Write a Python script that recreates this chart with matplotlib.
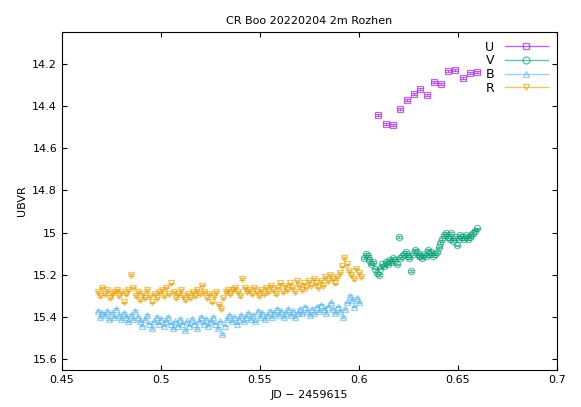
import numpy as np
import matplotlib
matplotlib.use("Agg")
import matplotlib.pyplot as plt
from matplotlib.lines import Line2D

u_x = [0.6096,0.6136,0.6172,0.6207,0.6242,0.6278,0.6308,0.6343,0.6379,0.6414,0.6449,0.6485,0.6525,0.6560,0.6596]
u_y = [14.443,14.486,14.490,14.414,14.371,14.343,14.319,14.348,14.286,14.295,14.233,14.229,14.267,14.243,14.238]

v_y = [15.12,15.10,15.11,15.13,15.15,15.14,15.17,15.19,15.20,15.17,15.15,15.16,15.14,15.15,15.13,15.14,
       15.12,15.13,15.15,15.02,15.12,15.11,15.10,15.09,15.11,15.12,15.18,15.10,15.08,15.09,15.11,15.11,
       15.12,15.10,15.11,15.08,15.10,15.09,15.11,15.10,15.09,15.07,15.05,15.03,15.01,15.00,15.02,15.03,
       15.00,15.04,15.02,15.06,15.03,15.01,15.02,15.03,15.01,15.03,15.02,15.01,15.00,14.99,14.98]
v_x = np.linspace(0.6025, 0.6595, len(v_y))

r_y = [15.28,15.30,15.26,15.29,15.27,15.31,15.29,15.28,15.27,15.30,15.28,15.33,15.29,15.27,15.20,15.26,
       15.30,15.28,15.32,15.29,15.31,15.27,15.30,15.33,15.29,15.31,15.28,15.27,15.30,15.26,15.29,15.24,
       15.28,15.31,15.29,15.27,15.30,15.32,15.29,15.31,15.28,15.30,15.27,15.29,15.25,15.28,15.31,15.29,
       15.33,15.30,15.28,15.34,15.36,15.31,15.28,15.27,15.29,15.27,15.26,15.28,15.30,15.22,15.26,15.28,
       15.27,15.29,15.26,15.28,15.30,15.27,15.29,15.26,15.28,15.25,15.27,15.29,15.26,15.24,15.28,15.25,
       15.27,15.24,15.26,15.28,15.23,15.25,15.27,15.24,15.26,15.23,15.25,15.22,15.24,15.26,15.23,15.25,
       15.21,15.23,15.20,15.22,15.24,15.21,15.19,15.16,15.12,15.15,15.18,15.20,15.22,15.17,15.19,15.21]
r_x = np.linspace(0.468, 0.601, len(r_y))

b_y = [15.37,15.40,15.38,15.39,15.37,15.41,15.38,15.40,15.36,15.39,15.41,15.38,15.40,15.42,15.39,15.41,
       15.37,15.40,15.42,15.44,15.41,15.39,15.43,15.45,15.42,15.40,15.43,15.41,15.44,15.42,15.40,15.43,
       15.45,15.42,15.44,15.41,15.43,15.46,15.42,15.44,15.41,15.43,15.45,15.42,15.40,15.43,15.41,15.44,
       15.42,15.40,15.43,15.45,15.42,15.48,15.44,15.41,15.39,15.42,15.40,15.43,15.41,15.39,15.42,15.40,
       15.38,15.41,15.39,15.42,15.37,15.40,15.38,15.41,15.39,15.37,15.40,15.38,15.36,15.39,15.37,15.40,
       15.38,15.36,15.39,15.37,15.40,15.38,15.36,15.38,15.35,15.37,15.39,15.36,15.38,15.35,15.37,15.34,
       15.36,15.38,15.35,15.33,15.36,15.38,15.35,15.37,15.40,15.36,15.33,15.30,15.32,15.35,15.31,15.33]
b_x = np.linspace(0.468, 0.600, len(b_y))

series = [("U", u_x, u_y, "#9400d3", "s"),
          ("V", v_x, v_y, "#009e73", "o"),
          ("B", b_x, b_y, "#56b4e9", "^"),
          ("R", r_x, r_y, "#e69f00", "v")]

fig = plt.figure(figsize=(5.81, 4.07), dpi=100)
ax = fig.add_axes([62/581, 1-370/407, 495/581, 338/407])
handles = []
for name, x, y, c, m in series:
    ax.errorbar(x, y, yerr=0.004, fmt=m, mfc="none", mec=c, ecolor=c, color=c,
                ms=4.5, mew=0.9, elinewidth=0.8, capsize=2, alpha=0.6)
    handles.append(Line2D([], [], color=c, marker=m, mfc="none", mec=c, ms=5,
                          lw=1, alpha=0.6, label=name))
ax.set_xlim(0.45, 0.7)
ax.set_ylim(15.65, 14.05)
ax.set_xticks([0.45,0.5,0.55,0.6,0.65,0.7])
ax.set_xticklabels(["0.45","0.5","0.55","0.6","0.65","0.7"])
ax.set_yticks([14.2,14.4,14.6,14.8,15,15.2,15.4,15.6])
ax.set_yticklabels(["14.2","14.4","14.6","14.8","15","15.2","15.4","15.6"])
ax.tick_params(direction="in", labelsize=8, top=True, right=True)
ax.set_xlabel("JD − 2459615", fontsize=8)
ax.set_ylabel("UBVR", fontsize=8)
ax.set_title("CR Boo 20220204 2m Rozhen", fontsize=8)
ax.legend(handles=handles, loc="upper right", frameon=False, markerfirst=False, fontsize=9,
          handlelength=3.5, labelspacing=0.05, borderaxespad=0.3)
fig.savefig("out.png", dpi=100)
